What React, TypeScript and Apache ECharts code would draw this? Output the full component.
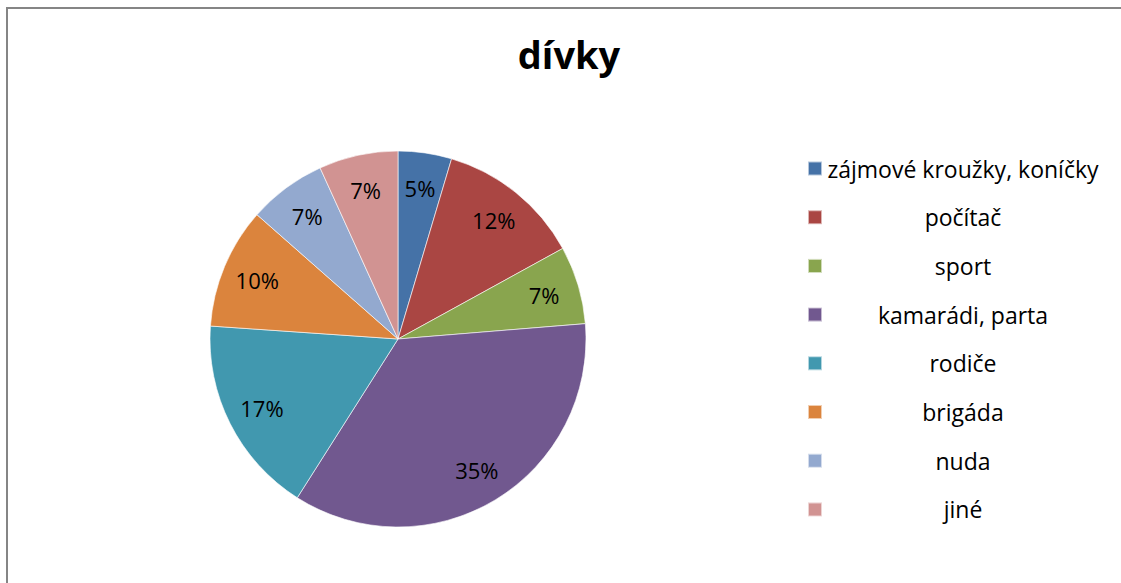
import React, { useEffect, useRef } from "react";
import * as echarts from "echarts";

const categories = [
  "zájmové kroužky, koníčky",
  "počítač",
  "sport",
  "kamarádi, parta",
  "rodiče",
  "brigáda",
  "nuda",
  "jiné",
];
const values = [4.6, 12.4, 6.7, 35.3, 17.1, 10.4, 6.7, 6.8];
const colors = ["#4572A7", "#AA4643", "#89A54E", "#71588F", "#4198AF", "#DB843D", "#93A9CF", "#D19392"];
const titleText = "dívky";

export default function App() {
  const ref = useRef<HTMLDivElement>(null);
  useEffect(() => {
    if (!ref.current) return;
    const chart = echarts.init(ref.current, undefined, { renderer: "svg" });
    const data = categories.map((name, i) => ({ name, value: values[i] }));
    const font = "'Open Sans', sans-serif";
    const legendSize = 23;
    let maxW = 0;
    const ctx = document.createElement("canvas").getContext("2d");
    if (ctx) {
      ctx.font = legendSize + "px 'Open Sans'";
      categories.forEach((c) => {
        maxW = Math.max(maxW, ctx.measureText(c).width);
      });
    }
    if (!maxW) maxW = 272;
    chart.setOption({
      animation: false,
      color: colors,
      title: {
        text: titleText,
        left: 564,
        top: 30,
        textAlign: "center",
        textStyle: { fontFamily: font, fontSize: 38, fontWeight: "bold", color: "#000" },
      },
      legend: {
        orient: "vertical",
        left: 802,
        top: 152,
        itemWidth: 14,
        itemHeight: 14,
        itemGap: 25.7,
        icon: "rect",
        data: categories,
        formatter: (name: string) => "{a|" + name + "}",
        textStyle: {
          fontFamily: font,
          fontSize: legendSize,
          color: "#000",
          rich: {
            a: { fontFamily: font, fontSize: legendSize, color: "#000", width: Math.ceil(maxW), align: "center", lineHeight: 24 },
          },
        },
      },
      graphic: [
        { type: "line", shape: { x1: 7, y1: 8, x2: 1121, y2: 8 }, style: { stroke: "#858585", lineWidth: 2 } },
        { type: "line", shape: { x1: 7, y1: 7, x2: 7, y2: 583 }, style: { stroke: "#858585", lineWidth: 2 } },
      ],
      series: [
        {
          type: "pie",
          center: [398, 339],
          radius: [0, 188],
          startAngle: 90,
          clockwise: true,
          data,
          label: { show: false },
          labelLine: { show: false },
          itemStyle: { borderColor: "rgba(255,255,255,0.6)", borderWidth: 1 },
          emphasis: { disabled: true },
        },
        {
          type: "pie",
          center: [398, 339],
          radius: [111, 188],
          startAngle: 90,
          clockwise: true,
          silent: true,
          data,
          itemStyle: { color: "rgba(0,0,0,0)", borderWidth: 0 },
          label: {
            show: true,
            position: "inside",
            formatter: (p: any) => Math.round(p.percent) + "%",
            fontFamily: font,
            fontSize: 22,
            color: "#000",
          },
          labelLine: { show: false },
          emphasis: { disabled: true },
        },
      ],
    });
    return () => chart.dispose();
  }, []);
  return (
    <div
      ref={ref}
      style={{ position: "fixed", left: 0, top: 0, width: 1121, height: 583, background: "#fff" }}
    />
  );
}
